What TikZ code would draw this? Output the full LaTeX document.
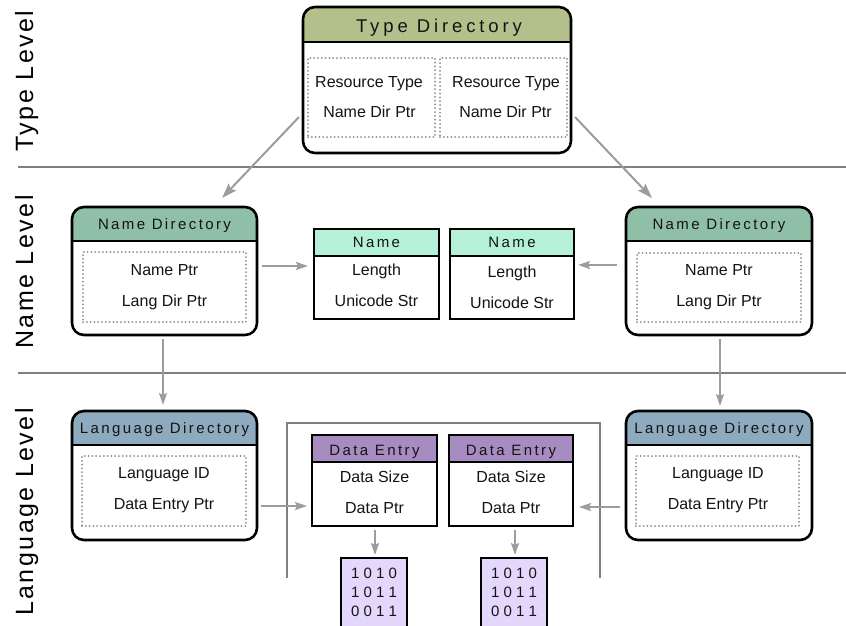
\documentclass[tikz,border=0pt]{standalone}
\usepackage{fontspec}
\setmainfont{Liberation Sans}
\newfontfamily\hdrfont[LetterSpace=16]{Liberation Sans}
\newfontfamily\tdfont[LetterSpace=21]{Liberation Sans}
\newfontfamily\lvlfont[LetterSpace=10]{Liberation Sans}
\usetikzlibrary{arrows.meta}

\definecolor{typehdr}{HTML}{B4C08C}
\definecolor{ndirhdr}{HTML}{8FBFA6}
\definecolor{namehdr}{HTML}{B5F0D9}
\definecolor{ldirhdr}{HTML}{8DAABF}
\definecolor{datahdr}{HTML}{A68CC0}
\definecolor{binfill}{HTML}{E3D7FC}
\definecolor{dotgray}{HTML}{8C8C8C}
\definecolor{arrgray}{HTML}{9C9C9C}
\definecolor{sepgray}{HTML}{808080}
\definecolor{inktext}{HTML}{141414}

% frame with a coloured header band; rounded (r>0) or square (r=0)
% #1 name, #2 x1, #3 y1, #4 x2, #5 y2, #6 header bottom, #7 colour, #8 corner radius
\newcommand{\hdrbox}[8]{%
  \begin{scope}
    \clip[rounded corners=#8] (#2,#3) rectangle (#4,#5);
    \fill[white] (#2,#3) rectangle (#4,#5);
    \fill[#7] (#2,#3) rectangle (#4,#6);
  \end{scope}
  \draw[hdrline] (#2,#6) -- (#4,#6);
  \node[frame, rounded corners=#8, minimum width={#4-#2}, minimum height={#5-#3},
        anchor=north west] (#1) at (#2,#3) {};
}

\tikzset{
  frame/.style={draw=black, line width=2.6pt, inner sep=0pt, outer sep=0pt},
  hdrline/.style={draw=black, line width=1.8pt},
  dotbox/.style={draw=dotgray, line width=2pt, line cap=round,
                 dash pattern=on 0pt off 3.8pt, inner sep=0pt, outer sep=0pt,
                 anchor=north west},
  body/.style={font=\fontsize{16}{19}\selectfont, text=inktext, inner sep=0pt, anchor=base},
  hdr/.style={font=\hdrfont\fontsize{15}{18}\selectfont, text=inktext, inner sep=0pt, anchor=base},
  bigtitle/.style={font=\tdfont\fontsize{18.5}{22}\selectfont, text=inktext, inner sep=0pt, anchor=base},
  bits/.style={font=\fontsize{15}{18}\selectfont, text=inktext, inner sep=0pt, anchor=base},
  lvl/.style={font=\lvlfont\fontsize{25}{29}\selectfont, text=black, rotate=90,
              anchor=base, inner sep=0pt},
  arr/.style={draw=arrgray, line width=2pt,
              -{Stealth[length=12pt,width=8pt,inset=2pt]}},
  bigarr/.style={draw=arrgray, line width=2pt,
              -{Stealth[length=15pt,width=10pt,inset=2.5pt]}},
  sep/.style={draw=sepgray, line width=2.5pt},
  bracket/.style={draw=sepgray, line width=2.5pt},
}

\begin{document}
\begin{tikzpicture}[x=1pt, y=-1pt]
\useasboundingbox (0,0) rectangle (846,625);

% level separators and labels
\draw[sep] (18,167) -- (846,167);
\draw[sep] (18,373) -- (846,373);
\node[lvl] (lvtype) at (33,81) {Type Level};
\node[lvl] (lvname) at (33,272) {Name Level};
\node[lvl] (lvlang) at (33,512) {Language Level};

% ---- type directory ----
\hdrbox{td}{303}{7}{571}{153}{42}{typehdr}{12pt}
\node[bigtitle] (tdtitle) at (439,32) {Type Directory};
\node[dotbox, minimum width=127, minimum height=79] (tdl) at (308,58) {};
\node[dotbox, minimum width=127, minimum height=79] (tdr) at (440,58) {};
\node[body] (tdl1) at (369,87) {Resource Type};
\node[body] (tdl2) at (369.5,117) {Name Dir Ptr};
\node[body] (tdr1) at (506,87) {Resource Type};
\node[body] (tdr2) at (505.5,117) {Name Dir Ptr};

% ---- name directories ----
\hdrbox{nd1}{72}{207}{257}{335}{241}{ndirhdr}{12pt}
\node[hdr] (nd1t) at (164.5,229) {Name Directory};
\node[dotbox, minimum width=163, minimum height=70] (nd1d) at (83,252) {};
\node[body] (nd1a) at (164.5,275) {Name Ptr};
\node[body] (nd1b) at (164.5,306) {Lang Dir Ptr};

\hdrbox{nd2}{626}{207}{812}{335}{241}{ndirhdr}{12pt}
\node[hdr] (nd2t) at (719,229) {Name Directory};
\node[dotbox, minimum width=164, minimum height=69] (nd2d) at (637,253) {};
\node[body] (nd2a) at (719,275) {Name Ptr};
\node[body] (nd2b) at (719,306) {Lang Dir Ptr};

% ---- name entries ----
\hdrbox{nm1}{314}{229}{439}{319}{256}{namehdr}{0pt}
\node[hdr] (nm1t) at (376.5,247) {Name};
\node[body] (nm1a) at (376.5,275) {Length};
\node[body] (nm1b) at (376.5,306) {Unicode Str};

\hdrbox{nm2}{450}{229}{574}{319}{256}{namehdr}{0pt}
\node[hdr] (nm2t) at (512,247) {Name};
\node[body] (nm2a) at (512,277) {Length};
\node[body] (nm2b) at (512,308) {Unicode Str};

% ---- language directories ----
\hdrbox{ld1}{72}{411}{257}{540}{445}{ldirhdr}{12pt}
\node[hdr] (ld1t) at (164.5,433) {Language Directory};
\node[dotbox, minimum width=164, minimum height=70] (ld1d) at (82,456) {};
\node[body] (ld1a) at (164,478) {Language ID};
\node[body] (ld1b) at (164,509) {Data Entry Ptr};

\hdrbox{ld2}{626}{411}{812}{540}{445}{ldirhdr}{12pt}
\node[hdr] (ld2t) at (719,433) {Language Directory};
\node[dotbox, minimum width=163, minimum height=70] (ld2d) at (636,456) {};
\node[body] (ld2a) at (718,478) {Language ID};
\node[body] (ld2b) at (718,509) {Data Entry Ptr};

% ---- data entries inside the resource-data bracket ----
\draw[bracket] (287,578) -- (287,423) -- (600,423) -- (600,578);

\hdrbox{de1}{312}{435}{437}{526}{462}{datahdr}{0pt}
\node[hdr] (de1t) at (374.5,455) {Data Entry};
\node[body] (de1a) at (374.5,482) {Data Size};
\node[body] (de1b) at (374.5,513) {Data Ptr};

\hdrbox{de2}{449}{435}{573}{526}{462}{datahdr}{0pt}
\node[hdr] (de2t) at (511,455) {Data Entry};
\node[body] (de2a) at (511,482) {Data Size};
\node[body] (de2b) at (511,513) {Data Ptr};

% ---- raw data blocks ----
\node[frame, fill=binfill, minimum width=66, minimum height=76, anchor=north west] (b1) at (341,558) {};
\node[bits] (b1a) at (374,578) {1 0 1 0};
\node[bits] (b1b) at (374,597) {1 0 1 1};
\node[bits] (b1c) at (374,616) {0 0 1 1};

\node[frame, fill=binfill, minimum width=66, minimum height=76, anchor=north west] (b2) at (481,558) {};
\node[bits] (b2a) at (514,578) {1 0 1 0};
\node[bits] (b2b) at (514,597) {1 0 1 1};
\node[bits] (b2c) at (514,616) {0 0 1 1};

% ---- connectors ----
\draw[bigarr] ([shift={(-4,37)}]td.west) -- ([shift={(57.5,-9)}]nd1.north);
\draw[bigarr] ([shift={(4,37)}]td.east) -- ([shift={(-67,-9)}]nd2.north);

\draw[arr] ([shift={(5,-5)}]nd1.east) -- ([shift={(-6,-8)}]nm1.west);
\draw[arr] ([shift={(-9,-6)}]nd2.west) -- ([shift={(4,-9)}]nm2.east);

\draw[arr] ([shift={(-1.5,4)}]nd1.south) -- ([shift={(-1.5,-6)}]ld1.north);
\draw[arr] ([shift={(1,4)}]nd2.south) -- ([shift={(1,-5)}]ld2.north);

\draw[arr] ([shift={(4,30.5)}]ld1.east) -- ([shift={(-5,25.5)}]de1.west);
\draw[arr] ([shift={(-6,31.5)}]ld2.west) -- ([shift={(6,26.5)}]de2.east);

\draw[arr] ([shift={(0.5,4)}]de1.south) -- ([shift={(1,-3)}]b1.north);
\draw[arr] ([shift={(4,4)}]de2.south) -- ([shift={(1,-3)}]b2.north);
\end{tikzpicture}
\end{document}
